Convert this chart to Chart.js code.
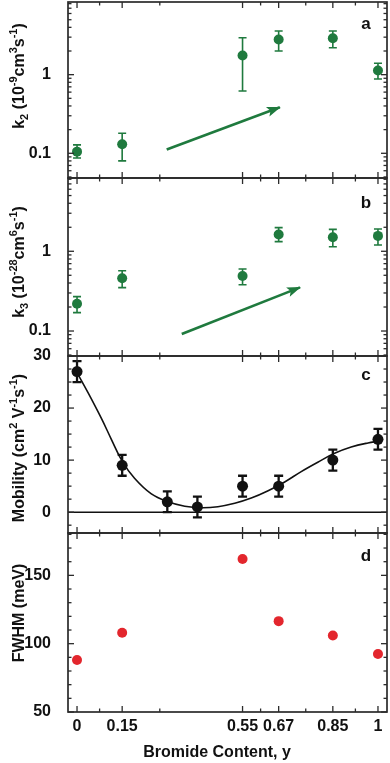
<!DOCTYPE html>
<html>
<head>
<meta charset="utf-8">
<script src="https://cdn.jsdelivr.net/npm/chart.js@4.4.1/dist/chart.umd.min.js"></script>
<style>
  html, body { margin: 0; padding: 0; background: #fff; }
  #wrap { position: relative; width: 390px; height: 763px; overflow: hidden; }
  #wrap canvas { position: absolute; left: 0; top: -30px; }
</style>
</head>
<body>
<div id="wrap">
  <canvas id="panelA"></canvas>
  <canvas id="panelB"></canvas>
  <canvas id="panelC"></canvas>
  <canvas id="panelD"></canvas>
</div>
<script>
// x positions (bromide content) and tick marks
const bromide = [0, 0.15, 0.55, 0.67, 0.85, 1];
const mobilityX = [0, 0.15, 0.3, 0.4, 0.55, 0.67, 0.85, 1];
const xTickLabels = [0, 0.15, 0.55, 0.67, 0.85, 1];
const xMinorTicks = [0.075, 0.275, 0.61, 0.76, 0.925];

// panel a: k2
const k2 = [0.105, 0.13, 1.75, 2.8, 2.9, 1.13];
const k2Low = [0.087, 0.08, 0.62, 2.0, 2.2, 0.88];
const k2High = [0.128, 0.18, 2.95, 3.6, 3.6, 1.4];
const k2TickLabels = [0.1, 1];

// panel b: k3
const k3 = [0.22, 0.46, 0.49, 1.62, 1.5, 1.56];
const k3Low = [0.17, 0.35, 0.38, 1.32, 1.14, 1.2];
const k3High = [0.27, 0.57, 0.6, 1.98, 1.88, 1.9];
const k3TickLabels = [0.1, 1];

// trend arrows (data coords)
const arrowAX = [0.298, 0.674];
const arrowAY = [0.112, 0.385];
const arrowBX = [0.348, 0.741];
const arrowBY = [0.0917, 0.353];

// panel c: mobility + fitted curve
const mobility = [27, 9, 2, 1, 5, 5, 10, 14];
const mobilityLow = [25, 7, 0, -1, 3, 3, 8, 12];
const mobilityHigh = [29, 11, 4, 3, 7, 7, 12, 16];
const fitX = [0, 0.037, 0.081, 0.114, 0.15, 0.191, 0.247, 0.302, 0.358, 0.413, 0.468, 0.524, 0.579, 0.635, 0.69, 0.745, 0.8, 0.856, 0.911, 0.967, 1];
const fitY = [26.8, 22.9, 18.0, 14.0, 9.8, 6.5, 3.5, 2.0, 1.15, 0.85, 1.05, 1.7, 2.7, 4.1, 5.8, 7.8, 9.6, 11.3, 12.5, 13.3, 13.6];
const mobilityTickLabels = [0, 10, 20, 30];

// panel d: FWHM
const fwhm = [88, 108, 162, 116.5, 106, 92.5];
const fwhmTickLabels = [50, 100, 150];

const OFFSET = 30;
const PAGE_H = 763;
const FONT = '"Liberation Sans", Arial, Helvetica, sans-serif';
const GREEN = '#1f7a3e';
const RED = '#e3262d';
const INK = '#111111';

const pts = (xs, ys) => xs.map((x, i) => ({ x, y: ys[i] }));

function drawRich(ctx, parts, x, y) {
    // rotated axis title with sub/superscripts, centred on (x, y)
    ctx.save();
    ctx.translate(x, y);
    ctx.rotate(-Math.PI / 2);
    ctx.fillStyle = INK;
    ctx.textBaseline = 'alphabetic';
    ctx.textAlign = 'left';
    const fontFor = t => t === 'n' ? 'bold 16px ' + FONT : 'bold 11px ' + FONT;
    let w = 0;
    parts.forEach(p => { ctx.font = fontFor(p[1]); w += ctx.measureText(p[0]).width; });
    let cx = -w / 2;
    parts.forEach(p => {
        ctx.font = fontFor(p[1]);
        const dy = p[1] === 'sup' ? -7 : p[1] === 'sub' ? 4 : 0;
        ctx.fillText(p[0], cx, dy);
        cx += ctx.measureText(p[0]).width;
    });
    ctx.restore();
}

function panelPlugin(cfg) {
    return {
        id: 'panelDecor',
        beforeDatasetsDraw(chart) {
            const { ctx, chartArea } = chart;
            const ys = chart.scales.y;
            if (cfg.zeroLine) {
                const y0 = ys.getPixelForValue(0);
                ctx.save();
                ctx.strokeStyle = INK;
                ctx.lineWidth = 1.4;
                ctx.beginPath();
                ctx.moveTo(chartArea.left, y0);
                ctx.lineTo(chartArea.right, y0);
                ctx.stroke();
                ctx.restore();
            }
            // error bars
            chart.data.datasets.forEach((ds, i) => {
                if (!ds.errLow) return;
                const elems = chart.getDatasetMeta(i).data;
                ctx.save();
                ctx.strokeStyle = ds.errColor;
                ctx.lineWidth = ds.errWidth;
                elems.forEach((pt, j) => {
                    const hi = ys.getPixelForValue(ds.errHigh[j]);
                    const lo = ys.getPixelForValue(ds.errLow[j]);
                    const c = ds.capHalf;
                    ctx.beginPath();
                    ctx.moveTo(pt.x, hi); ctx.lineTo(pt.x, lo);
                    ctx.moveTo(pt.x - c, hi); ctx.lineTo(pt.x + c, hi);
                    ctx.moveTo(pt.x - c, lo); ctx.lineTo(pt.x + c, lo);
                    ctx.stroke();
                });
                ctx.restore();
            });
        },
        afterDatasetsDraw(chart) {
            const { ctx } = chart;
            chart.data.datasets.forEach((ds, i) => {
                if (!ds.arrow) return;
                const el = chart.getDatasetMeta(i).data;
                const p0 = el[el.length - 2], p1 = el[el.length - 1];
                const a = Math.atan2(p1.y - p0.y, p1.x - p0.x);
                const len = 13, half = 5;
                ctx.save();
                ctx.fillStyle = ds.borderColor;
                ctx.translate(p1.x, p1.y);
                ctx.rotate(a);
                ctx.beginPath();
                ctx.moveTo(1, 0);
                ctx.lineTo(-len, -half);
                ctx.lineTo(-len + 3, 0);
                ctx.lineTo(-len, half);
                ctx.closePath();
                ctx.fill();
                ctx.restore();
            });
        },
        afterDraw(chart) {
            const { ctx, chartArea: { left, right, top, bottom } } = chart;
            const xs = chart.scales.x, ys = chart.scales.y;
            ctx.save();
            ctx.strokeStyle = '#2b2b2b';
            ctx.lineWidth = 1.3;
            const tick = (x1, y1, x2, y2) => { ctx.beginPath(); ctx.moveTo(x1, y1); ctx.lineTo(x2, y2); ctx.stroke(); };
            // x ticks, inward on top and bottom
            xTickLabels.forEach(v => {
                const px = xs.getPixelForValue(v);
                tick(px, bottom, px, bottom - 6);
                tick(px, top, px, top + 6);
            });
            xMinorTicks.forEach(v => {
                const px = xs.getPixelForValue(v);
                tick(px, bottom, px, bottom - 3.5);
                tick(px, top, px, top + 3.5);
            });
            // y ticks, inward on left and right
            const yTick = (v, len) => {
                const py = ys.getPixelForValue(v);
                if (py < top - 0.5 || py > bottom + 0.5) return;
                tick(left, py, left + len, py);
                tick(right, py, right - len, py);
            };
            if (cfg.yType === 'logarithmic') {
                for (let d = -2; d <= 1; d++) {
                    for (let m = 1; m <= 9; m++) {
                        yTick(m * Math.pow(10, d), m === 1 ? 6 : 3.5);
                    }
                }
            } else {
                for (let v = Math.ceil(cfg.yMin / cfg.minorStep) * cfg.minorStep; v <= cfg.yMax; v += cfg.minorStep) {
                    const major = Math.abs(v / cfg.majorStep - Math.round(v / cfg.majorStep)) < 1e-6;
                    yTick(v, major ? 6 : 3.5);
                }
            }
            // frame
            ctx.lineWidth = 1.7;
            ctx.strokeRect(left, top, right - left, bottom - top);
            ctx.restore();

            // panel letter
            ctx.save();
            ctx.fillStyle = INK;
            ctx.font = 'bold 17px ' + FONT;
            ctx.textAlign = 'center';
            ctx.textBaseline = 'alphabetic';
            ctx.fillText(cfg.letter, 366, cfg.letterY + OFFSET);
            if (cfg.xTitle) {
                ctx.font = 'bold 16px ' + FONT;
                ctx.fillText(cfg.xTitle, 217, 757 + OFFSET);
            }
            ctx.restore();

            drawRich(ctx, cfg.yTitle, 24, cfg.titleY + OFFSET);
        }
    };
}

function makeChart(id, cfg) {
    const canvas = document.getElementById(id);
    canvas.width = 390;
    canvas.height = PAGE_H + OFFSET;
    const isBottom = !!cfg.xTitle;
    const tickFont = { family: FONT, size: 16, weight: 'bold' };
    return new Chart(canvas, {
        type: 'scatter',
        data: { datasets: cfg.datasets },
        options: {
            responsive: false,
            animation: false,
            events: [],
            layout: {
                autoPadding: false,
                padding: { left: 0, right: 3, top: cfg.top + OFFSET, bottom: isBottom ? 0 : PAGE_H - cfg.bottom }
            },
            plugins: { legend: { display: false }, tooltip: { enabled: false } },
            scales: {
                x: {
                    type: 'linear',
                    min: -0.03,
                    max: 1.03,
                    display: isBottom,
                    grid: { display: false },
                    border: { display: false },
                    afterBuildTicks: s => { s.ticks = xTickLabels.map(v => ({ value: v })); },
                    afterFit: s => { s.height = isBottom ? PAGE_H - cfg.bottom : 0; },
                    ticks: {
                        autoSkip: false,
                        maxRotation: 0,
                        padding: -3.5,
                        color: INK,
                        font: tickFont,
                        callback: v => String(v)
                    }
                },
                y: {
                    type: cfg.yType,
                    min: cfg.yMin,
                    max: cfg.yMax,
                    grid: { display: false },
                    border: { display: false },
                    afterBuildTicks: s => { s.ticks = cfg.yLabels.map(v => ({ value: v })); },
                    afterFit: s => { s.width = 68; },
                    ticks: {
                        padding: 9,
                        color: INK,
                        font: tickFont,
                        callback: v => String(v)
                    }
                }
            }
        },
        plugins: [panelPlugin(cfg)]
    });
}

const markerStyle = (color, r) => ({
    pointRadius: r,
    pointBackgroundColor: color,
    pointBorderWidth: 0,
    pointBorderColor: color,
    showLine: false
});

makeChart('panelA', {
    letter: 'a', letterY: 28.5, top: 2, bottom: 178,
    yType: 'logarithmic', yMin: 0.0485, yMax: 8.4, yLabels: k2TickLabels,
    titleY: 76,
    yTitle: [['k', 'n'], ['2', 'sub'], [' (10', 'n'], ['-9', 'sup'], ['cm', 'n'], ['3', 'sup'], ['s', 'n'], ['-1', 'sup'], [')', 'n']],
    datasets: [
        Object.assign({ data: pts(bromide, k2), errLow: k2Low, errHigh: k2High, errColor: GREEN, errWidth: 1.6, capHalf: 4 }, markerStyle(GREEN, 5)),
        { data: pts(arrowAX, arrowAY), showLine: true, pointRadius: 0, borderColor: GREEN, borderWidth: 2.6, arrow: true }
    ]
});

makeChart('panelB', {
    letter: 'b', letterY: 207.5, top: 178, bottom: 356,
    yType: 'logarithmic', yMin: 0.0486, yMax: 8.3, yLabels: k3TickLabels,
    titleY: 262,
    yTitle: [['k', 'n'], ['3', 'sub'], [' (10', 'n'], ['-28', 'sup'], ['cm', 'n'], ['6', 'sup'], ['s', 'n'], ['-1', 'sup'], [')', 'n']],
    datasets: [
        Object.assign({ data: pts(bromide, k3), errLow: k3Low, errHigh: k3High, errColor: GREEN, errWidth: 1.6, capHalf: 4 }, markerStyle(GREEN, 5)),
        { data: pts(arrowBX, arrowBY), showLine: true, pointRadius: 0, borderColor: GREEN, borderWidth: 2.6, arrow: true }
    ]
});

makeChart('panelC', {
    letter: 'c', letterY: 380, top: 356, bottom: 533,
    yType: 'linear', yMin: -4, yMax: 30, yLabels: mobilityTickLabels, minorStep: 2.5, majorStep: 10,
    zeroLine: true,
    titleY: 448,
    yTitle: [['Mobility (cm', 'n'], ['2', 'sup'], [' V', 'n'], ['-1', 'sup'], ['s', 'n'], ['-1', 'sup'], [')', 'n']],
    datasets: [
        Object.assign({ data: pts(mobilityX, mobility), errLow: mobilityLow, errHigh: mobilityHigh, errColor: INK, errWidth: 2.3, capHalf: 4.5 }, markerStyle(INK, 5.5)),
        { data: pts(fitX, fitY), showLine: true, pointRadius: 0, borderColor: INK, borderWidth: 1.6, tension: 0.4 }
    ]
});

makeChart('panelD', {
    letter: 'd', letterY: 561, top: 533, bottom: 712,
    yType: 'linear', yMin: 50, yMax: 181, yLabels: fwhmTickLabels, minorStep: 10, majorStep: 50,
    titleY: 613,
    xTitle: 'Bromide Content, y',
    yTitle: [['FWHM (meV)', 'n']],
    datasets: [
        Object.assign({ data: pts(bromide, fwhm) }, markerStyle(RED, 5))
    ]
});
</script>
</body>
</html>
